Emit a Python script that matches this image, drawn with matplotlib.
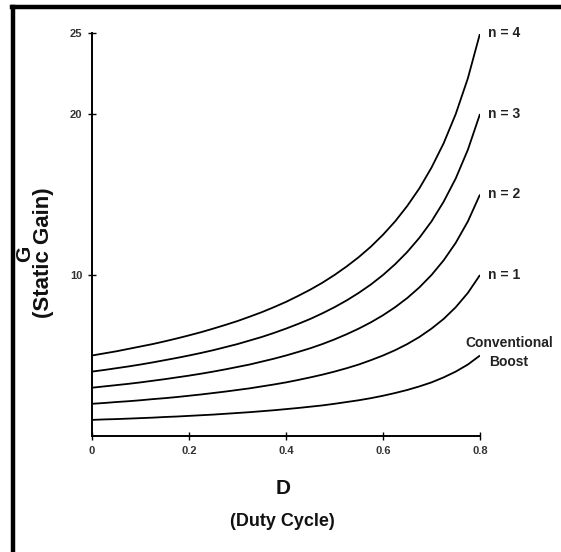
import matplotlib
matplotlib.use("Agg")
import matplotlib.pyplot as plt
from matplotlib.lines import Line2D

plt.rcParams['font.family'] = ['Liberation Sans', 'DejaVu Sans']

# Duty cycle samples
D = [0.000, 0.025, 0.050, 0.075, 0.100, 0.125, 0.150, 0.175, 0.200, 0.225, 0.250,
     0.275, 0.300, 0.325, 0.350, 0.375, 0.400, 0.425, 0.450, 0.475, 0.500, 0.525,
     0.550, 0.575, 0.600, 0.625, 0.650, 0.675, 0.700, 0.725, 0.750, 0.775, 0.800]

# Static gain curves
G_conv = [1.00, 1.03, 1.05, 1.08, 1.11, 1.14, 1.18, 1.21, 1.25, 1.29, 1.33,
          1.38, 1.43, 1.48, 1.54, 1.60, 1.67, 1.74, 1.82, 1.90, 2.00, 2.11,
          2.22, 2.35, 2.50, 2.67, 2.86, 3.08, 3.33, 3.64, 4.00, 4.44, 5.00]
G_n1 = [2.00, 2.05, 2.11, 2.16, 2.22, 2.29, 2.35, 2.42, 2.50, 2.58, 2.67,
        2.76, 2.86, 2.96, 3.08, 3.20, 3.33, 3.48, 3.64, 3.81, 4.00, 4.21,
        4.44, 4.71, 5.00, 5.33, 5.71, 6.15, 6.67, 7.27, 8.00, 8.89, 10.00]
G_n2 = [3.00, 3.08, 3.16, 3.24, 3.33, 3.43, 3.53, 3.64, 3.75, 3.87, 4.00,
        4.14, 4.29, 4.44, 4.62, 4.80, 5.00, 5.22, 5.45, 5.71, 6.00, 6.32,
        6.67, 7.06, 7.50, 8.00, 8.57, 9.23, 10.00, 10.91, 12.00, 13.33, 15.00]
G_n3 = [4.00, 4.10, 4.21, 4.32, 4.44, 4.57, 4.71, 4.85, 5.00, 5.16, 5.33,
        5.52, 5.71, 5.93, 6.15, 6.40, 6.67, 6.96, 7.27, 7.62, 8.00, 8.42,
        8.89, 9.41, 10.00, 10.67, 11.43, 12.31, 13.33, 14.55, 16.00, 17.78, 20.00]
G_n4 = [5.00, 5.13, 5.26, 5.41, 5.56, 5.71, 5.88, 6.06, 6.25, 6.45, 6.67,
        6.90, 7.14, 7.41, 7.69, 8.00, 8.33, 8.70, 9.09, 9.52, 10.00, 10.53,
        11.11, 11.76, 12.50, 13.33, 14.29, 15.38, 16.67, 18.18, 20.00, 22.22, 25.00]

series = [G_conv, G_n1, G_n2, G_n3, G_n4]
series_labels = ["Conventional\nBoost", "n = 1", "n = 2", "n = 3", "n = 4"]

x_ticks = [0, 0.2, 0.4, 0.6, 0.8]
x_ticklabels = ["0", "0.2", "0.4", "0.6", "0.8"]
y_ticks = [10, 20, 25]
y_ticklabels = ["10", "20", "25"]

W, H = 561, 552
fig = plt.figure(figsize=(W / 100, H / 100), dpi=100)

# axes placement in pixels
x0, x1 = 92, 480
y0, y1 = 436, 33.5
ax = fig.add_axes([x0 / W, 1 - y0 / H, (x1 - x0) / W, (y0 - y1) / H])

for s in series:
    ax.plot(D, s, color="black", lw=1.3, solid_capstyle="butt")

ax.set_xlim(0, 0.8)
ax.set_ylim(0, 25)
ax.spines["top"].set_visible(False)
ax.spines["right"].set_visible(False)
ax.spines["left"].set_linewidth(1.4)
ax.spines["bottom"].set_linewidth(1.4)
ax.set_xticks(x_ticks)
ax.set_xticklabels(x_ticklabels)
ax.set_yticks(y_ticks)
ax.set_yticklabels(y_ticklabels)
ax.tick_params(direction="inout", length=6, width=1.0, labelsize=8, pad=4)
for lab in ax.get_xticklabels() + ax.get_yticklabels():
    lab.set_fontweight("bold")
    lab.set_color("#333333")

# curve labels
for s, lab in zip(series, series_labels):
    if lab.startswith("Conventional"):
        ax.annotate(lab, xy=(D[-1], s[-1]), xytext=(21, 2), textcoords="offset points",
                    ha="center", va="center", fontsize=10, fontweight="bold",
                    color="#222222", linespacing=1.45, annotation_clip=False)
    else:
        ax.annotate(lab, xy=(D[-1], s[-1]), xytext=(6, 0), textcoords="offset points",
                    ha="left", va="center", fontsize=10, fontweight="bold",
                    color="#222222", annotation_clip=False)

# axis titles
fig.text(283 / W, 1 - 489 / H, "D", ha="center", va="center",
         fontsize=15, fontweight="bold", color="#111111")
fig.text(282 / W, 1 - 521 / H, "(Duty Cycle)", ha="center", va="center",
         fontsize=13, fontweight="bold", color="#111111")
fig.text(25 / W, 1 - 254 / H, "G", ha="center", va="center", rotation=90,
         fontsize=15, fontweight="bold", color="#111111")
fig.text(44 / W, 1 - 253 / H, "(Static Gain)", ha="center", va="center", rotation=90,
         fontsize=16, fontweight="bold", color="#111111")

# outer frame: top and left thick black lines
fig.add_artist(Line2D([11.5 / W, 1.0], [1 - 7 / H, 1 - 7 / H], transform=fig.transFigure,
                      color="black", lw=3.2, solid_capstyle="projecting"))
fig.add_artist(Line2D([13 / W, 13 / W], [0, 1 - 7 / H], transform=fig.transFigure,
                      color="black", lw=3.2, solid_capstyle="projecting"))

fig.savefig("out.png", dpi=100)
